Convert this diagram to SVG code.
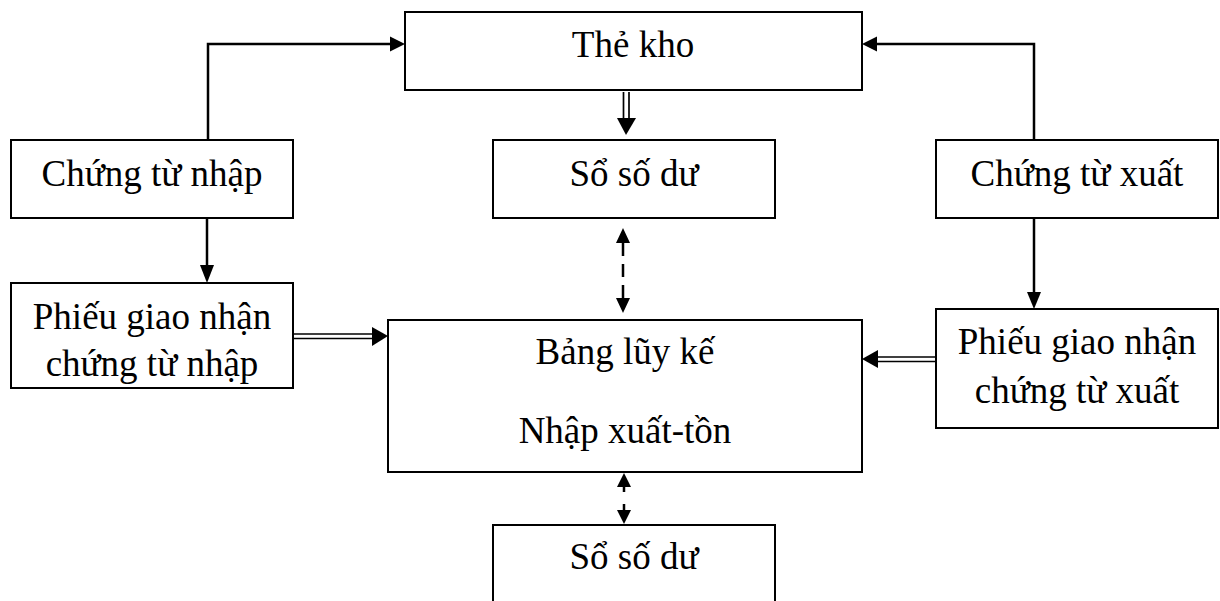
<svg xmlns="http://www.w3.org/2000/svg" width="1220" height="601" viewBox="0 0 1220 601">
<style>
.box{fill:#fff;stroke:#000;stroke-width:2}
.t{font-family:"Liberation Serif","Times New Roman",serif;font-size:37px;fill:#000;text-anchor:middle}
.ln{fill:none;stroke:#000;stroke-width:2.5}
.thin{fill:none;stroke:#000;stroke-width:1.7}
.dash{fill:none;stroke:#000;stroke-width:2.5;stroke-dasharray:13 8}
.head{fill:#000}
</style>
<rect width="1220" height="601" fill="#fff"/>
<g id="the-kho"><rect class="box" x="405" y="12" width="457" height="78"/><text class="t" x="633" y="57">Thẻ kho</text></g>
<g id="chung-tu-nhap"><rect class="box" x="11" y="140" width="282" height="78"/><text class="t" x="152" y="186">Chứng từ nhập</text></g>
<g id="so-so-du-1"><rect class="box" x="493" y="140" width="282" height="78"/><text class="t" x="634" y="186">Sổ số dư</text></g>
<g id="chung-tu-xuat"><rect class="box" x="936" y="140" width="282" height="78"/><text class="t" x="1077" y="186">Chứng từ xuất</text></g>
<g id="phieu-nhap"><rect class="box" x="11" y="283" width="282" height="105"/><text class="t" x="152" y="329">Phiếu giao nhận</text><text class="t" x="152" y="376">chứng từ nhập</text></g>
<g id="bang-luy-ke"><rect class="box" x="388" y="320" width="474" height="152"/><text class="t" x="625" y="364">Bảng lũy kế</text><text class="t" x="625" y="443">Nhập xuất-tồn</text></g>
<g id="phieu-xuat"><rect class="box" x="936" y="309" width="282" height="119"/><text class="t" x="1077" y="354">Phiếu giao nhận</text><text class="t" x="1077" y="403">chứng từ xuất</text></g>
<g id="so-so-du-2"><rect class="box" x="493" y="525" width="282" height="90"/><text class="t" x="634" y="569">Sổ số dư</text></g>
<g id="connectors">
<polyline class="ln" points="208,140 208,44 391,44"/>
<polygon class="head" points="405,44 390,36.5 390,51.5"/>
<polyline class="ln" points="1034,140 1034,44 876,44"/>
<polygon class="head" points="862,44 877,36.5 877,51.5"/>
<line class="ln" x1="207" y1="218" x2="207" y2="267"/>
<polygon class="head" points="207,283 200,265 214,265"/>
<line class="ln" x1="1034" y1="218" x2="1034" y2="294"/>
<polygon class="head" points="1034,309 1027,292 1041,292"/>
<line class="thin" x1="623.5" y1="92" x2="623.5" y2="120"/>
<line class="thin" x1="629" y1="92" x2="629" y2="120"/>
<polygon class="head" points="626,135 617,118 636,118"/>
<line class="thin" x1="293" y1="334" x2="376" y2="334"/>
<line class="thin" x1="293" y1="338.5" x2="376" y2="338.5"/>
<polygon class="head" points="388,336 372,327 372,346"/>
<line class="thin" x1="936" y1="357" x2="875" y2="357"/>
<line class="thin" x1="936" y1="361.5" x2="875" y2="361.5"/>
<polygon class="head" points="862,359 878,350 878,368"/>
<line class="dash" x1="623" y1="243" x2="623" y2="298"/>
<polygon class="head" points="623,228 616,243 630,243"/>
<polygon class="head" points="623,313 616,298 630,298"/>
<line class="dash" x1="624" y1="486" x2="624" y2="510" style="stroke-dasharray:6 12"/>
<polygon class="head" points="624,473 617,487 631,487"/>
<polygon class="head" points="624,524 617,510 631,510"/>
</g>
</svg>
